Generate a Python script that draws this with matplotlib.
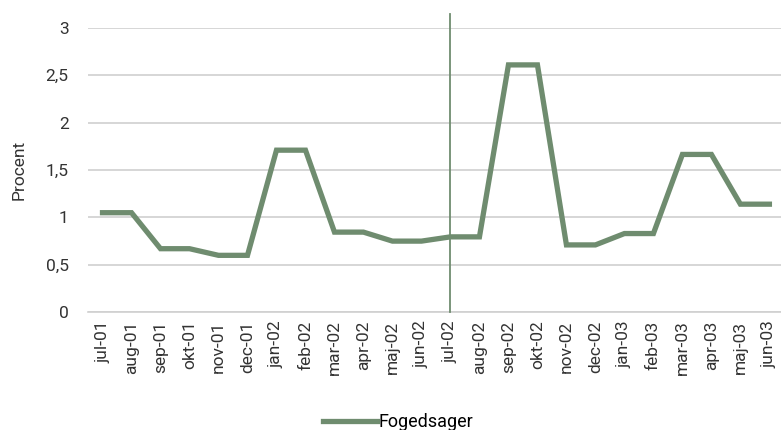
import matplotlib
matplotlib.use("Agg")
import matplotlib.pyplot as plt
from matplotlib.ticker import FuncFormatter

months = ["jul-01", "aug-01", "sep-01", "okt-01", "nov-01", "dec-01",
          "jan-02", "feb-02", "mar-02", "apr-02", "maj-02", "jun-02",
          "jul-02", "aug-02", "sep-02", "okt-02", "nov-02", "dec-02",
          "jan-03", "feb-03", "mar-03", "apr-03", "maj-03", "jun-03"]
fogedsager = [1.05, 1.05, 0.67, 0.67, 0.60, 0.60,
              1.71, 1.71, 0.845, 0.845, 0.75, 0.75,
              0.795, 0.795, 2.61, 2.61, 0.71, 0.71,
              0.83, 0.83, 1.665, 1.665, 1.14, 1.14]
marker_month = "jul-02"

plt.rcParams["font.family"] = ["Roboto", "DejaVu Sans"]

fig = plt.figure(figsize=(7.81, 4.30), dpi=100)
ax = fig.add_axes([0.1127, 0.274, 0.8873, 0.661])

x = list(range(len(months)))
ax.plot(x, fogedsager, color="#6f8c6f", lw=3.8, solid_joinstyle="miter",
        label="Fogedsager", zorder=3)

# reference line at jul-02
xm = months.index(marker_month)
ax.plot([xm, xm], [0, 3.15], color="#6f8c6f", lw=1.3, clip_on=False, zorder=4)

ax.set_xlim(-0.5, len(months) - 0.6)
ax.set_ylim(0, 3)
ax.set_yticks([0, 0.5, 1, 1.5, 2, 2.5, 3])
ax.yaxis.set_major_formatter(FuncFormatter(lambda v, p: f"{v:g}".replace(".", ",")))
ax.set_xticks(x)
ax.set_xticklabels(months, rotation=90, fontsize=12.5, color="#333333")
ax.tick_params(axis="y", labelsize=12.5, colors="#333333", length=0, pad=14)
ax.tick_params(axis="x", length=0, pad=6)
ax.grid(axis="y", color="#d0d0d0", lw=1.2)
ax.set_axisbelow(True)
for s in ["top", "right", "left"]:
    ax.spines[s].set_visible(False)
ax.spines["bottom"].set_color("#d0d0d0")
ax.spines["bottom"].set_linewidth(1.2)
ax.set_ylabel("Procent", fontsize=12.5, color="#333333", labelpad=14)

fig.legend(loc="lower center", bbox_to_anchor=(0.51, -0.04), frameon=False,
           fontsize=13, handlelength=3.0, handletextpad=0.1)

fig.savefig("out.png", dpi=100)
